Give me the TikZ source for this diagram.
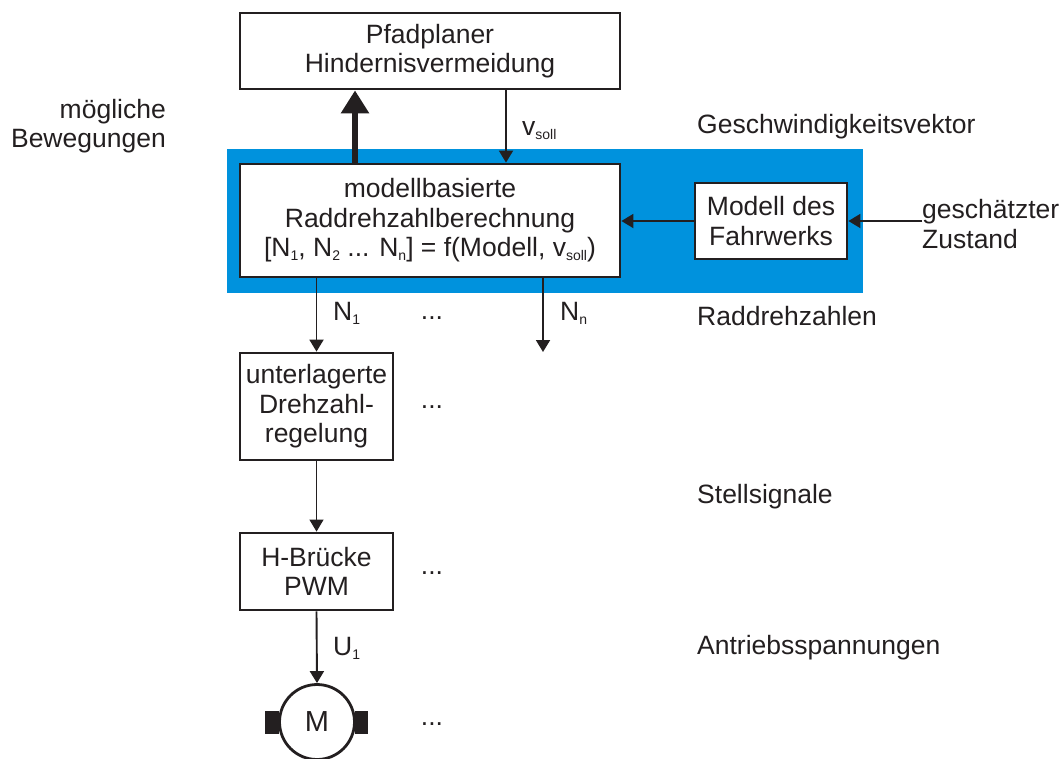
\documentclass[tikz,border=0pt]{standalone}
\usepackage{fontspec}
\setmainfont{Liberation Sans}
\usetikzlibrary{arrows.meta}
\definecolor{ink}{RGB}{35,31,32}
\definecolor{bgblue}{RGB}{0,146,221}
\newcommand{\lowidx}[1]{\raisebox{-4pt}{\fontsize{14}{14}\selectfont #1}}
\tikzset{
	block/.style={draw=ink, line width=2.8pt, fill=white, align=center, inner sep=0pt},
	sig/.style={draw=ink, line width=1.9pt, -{Triangle[length=12pt, width=14pt]}},
	bigsig/.style={draw=ink, line width=6.5pt, -{Triangle[length=23pt, width=27pt]}},
	lbl/.style={anchor=base west, inner sep=0pt, text=ink},
	dots/.style={anchor=base, inner sep=0pt, text=ink},
}
\begin{document}
\begin{tikzpicture}[x=1pt, y=-1pt, font=\fontsize{26.5}{29.5}\selectfont, color=ink]
		\useasboundingbox (0,0) rectangle (1064,758);
		\fill[bgblue] (227,149) rectangle (863,293);

		\node[block, minimum width=380pt, minimum height=76pt] (pfad) at (430,51) {Pfadplaner\\Hindernisvermeidung};
		\node[block, minimum width=380pt, minimum height=113pt] (model) at (430,220.5)
		{modellbasierte\\Raddrehzahlberechnung\\{[}N\lowidx{1}, N\lowidx{2} ... N\lowidx{n}] = f(Modell, v\lowidx{soll})};
		\node[block, minimum width=152pt, minimum height=76pt] (fahr) at (771,221) {Modell des\\Fahrwerks};
		\node[block, minimum width=153pt, minimum height=107pt] (regel) at (316.5,406.5) {unterlagerte\\Drehzahl-\\regelung};
		\node[block, minimum width=153pt, minimum height=77pt] (hbr) at (316.5,571.5) {H-Brücke\\PWM};
		\node[draw=ink, line width=2.8pt, circle, minimum size=75pt, inner sep=0pt, font=\fontsize{29}{32}\selectfont] (motor) at (317,722) {M};
		\fill[ink] ([xshift=1pt]motor.west) ++(-14,-11.5) rectangle ++(14,23);
		\fill[ink] ([xshift=-1pt]motor.east) ++(0,-11.5) rectangle ++(13,23);

		\node[anchor=east, align=right, inner sep=0pt] (beweg) at (166,126) {mögliche\\Bewegungen};
		\node[anchor=west, align=left, inner sep=0pt] (zust) at (922,224) {geschätzter\\Zustand};
		\node[lbl] (vsoll) at (522,135) {v\lowidx{soll}};
		\node[lbl] (n1) at (333,320) {N\lowidx{1}};
		\node[lbl] (nn) at (560,320) {N\lowidx{n}};
		\node[lbl] (u1) at (333,655) {U\lowidx{1}};
		\node[lbl] (geschw) at (697,133) {Geschwindigkeitsvektor};
		\node[lbl] (raddr) at (697,325) {Raddrehzahlen};
		\node[lbl] (stell) at (697,503) {Stellsignale};
		\node[lbl] (antr) at (697,654) {Antriebsspannungen};
		\node[dots] (d1) at (432,319) {...};
		\node[dots] (d2) at (432,408) {...};
		\node[dots] (d3) at (432,574) {...};
		\node[dots] (d4) at (432,725) {...};

		\draw[bigsig] ([xshift=-75pt]model.north) -- ([xshift=-75pt]pfad.south);
		\draw[sig] ([xshift=76pt]pfad.south) -- ([xshift=76pt]model.north);
		\draw[sig] (zust.west |- fahr.east) -- (fahr.east);
		\draw[sig] (fahr.west) -- (model.east |- fahr.west);
		\draw[sig] (regel.north |- model.south) -- (regel.north);
		\coordinate (nend) at (543,352);
		\draw[sig] (model.south -| nend) -- (nend);
		\draw[sig, line width=1.3pt] (regel.south) -- (hbr.north);
		\draw[sig] (hbr.south) -- (motor.north);
	\end{tikzpicture}
\end{document}
